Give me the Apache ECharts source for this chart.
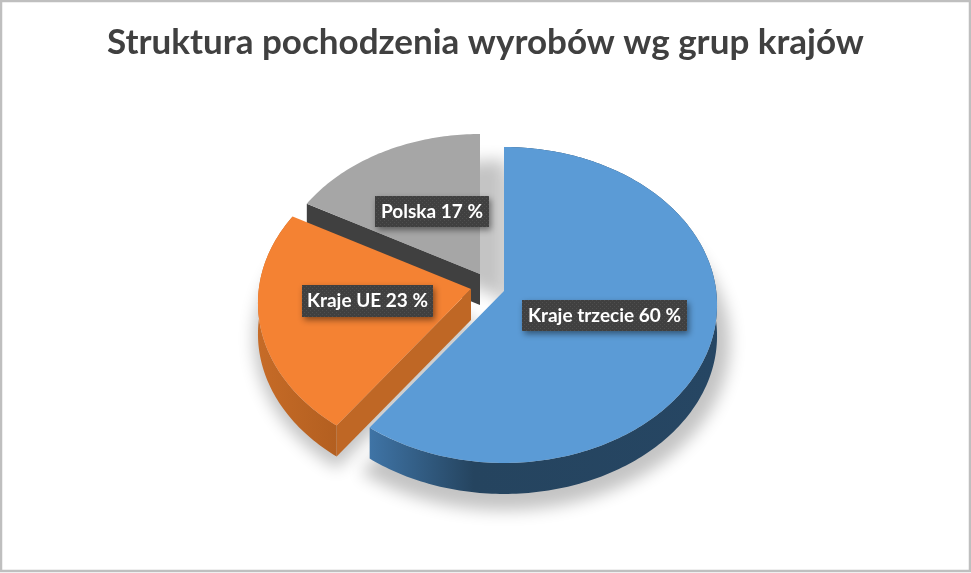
<!DOCTYPE html>
<html><head><meta charset="utf-8">
<style>html,body{margin:0;padding:0;background:#fff}#c{width:971px;height:573px}</style>
<script src="https://cdn.jsdelivr.net/npm/echarts@6/dist/echarts.min.js"></script>
</head><body><div id="c"></div>
<script>
const categories = ['Kraje trzecie', 'Kraje UE', 'Polska'];
const shares = [60, 23, 17];
const titleText = 'Struktura pochodzenia wyrobów wg grup krajów';

// drawing layout of the tilted pie
const centre = {x: 504, y: 291}, radiusX = 212.2, radiusY = 156.7, persp = 0.0885, depth = 31;
const explode = [[0, 0], [-33, -2], [-24, -17]];
const sliceScale = [1, 1, 0.97];
const shadowShift = [[0, 36], [9, 34], [26, 26]];
const shadowScale = [1.06, 1.06, 1];
const offCanvas = 3000;
const faceColors = ['#5b9bd6', '#f48233', '#a6a6a6'];
const rimColors = [
  {type:'linear',x:0,y:0,x2:1,y2:0,colorStops:[{offset:0,color:'#3f74a6'},{offset:.3,color:'#25445f'},{offset:1,color:'#264663'}]},
  {type:'linear',x:0,y:0,x2:1,y2:0,colorStops:[{offset:0,color:'#c66b27'},{offset:1,color:'#b35f20'}]},
  '#404040'];
const wallColors = ['#264663', '#bf6725', '#404040'];
const labelBoxes = [[522, 300, 165, 31], [302, 285, 131, 32], [375, 196, 114, 31]];

const dot = document.createElement('canvas');
dot.width = dot.height = 4;
const g = dot.getContext('2d');
g.fillStyle = '#404040'; g.fillRect(0, 0, 4, 4);
g.fillStyle = '#4f4f4f'; g.fillRect(0, 0, 1, 1); g.fillRect(2, 2, 1, 1);

function project(a, r) {
  const rad = a * Math.PI / 180, ux = Math.sin(rad) * r, uy = -Math.cos(rad) * r, w = 1 - persp * uy;
  return [radiusX * ux / w, radiusY * uy / w];
}
function angles(i) {
  const total = shares.reduce((s, v) => s + v, 0);
  const before = shares.slice(0, i).reduce((s, v) => s + v, 0);
  return [before / total * 360, (before + shares[i]) / total * 360];
}
function arc(i, scale) {
  const [a0, a1] = angles(i), pts = [];
  const n = Math.ceil(a1 - a0);
  for (let k = 0; k <= n; k++) pts.push(project(a0 + (a1 - a0) * k / n, scale));
  return pts;
}
const place = (i, pts, dy) => pts.map(p => [centre.x + explode[i][0] + p[0], centre.y + explode[i][1] + p[1] + (dy || 0)]);

// only the blurred shadow shows: the casting polygon itself lies off the canvas
function renderShadow(params, api) {
  const i = api.value(1);
  const pts = place(i, [[0, 0]].concat(arc(i, shadowScale[i] * sliceScale[i])))
    .map(p => [p[0] + shadowShift[i][0] - offCanvas, p[1] + shadowShift[i][1]]);
  return {type: 'polygon', shape: {points: pts}, z2: 1,
    style: {fill: '#000', shadowBlur: 16, shadowOffsetX: offCanvas, shadowColor: 'rgba(196,196,196,1)'}};
}
function renderSlice(params, api) {
  const i = api.value(1), base = (3 - i) * 10;
  const a = arc(i, sliceScale[i]), top = place(i, a), bottom = place(i, a, depth);
  const apex = place(i, [[0, 0]]), apexLow = place(i, [[0, 0]], depth);
  const children = [];
  if (i !== 2) {
    children.push({type: 'polygon', z2: base, shape: {points: top.concat(bottom.slice().reverse())},
      style: {fill: rimColors[i]}});
  }
  if (i !== 0) { // visible cut wall
    children.push({type: 'polygon', z2: base + 1,
      shape: {points: [top[0], apex[0], apexLow[0], bottom[0]]}, style: {fill: wallColors[i]}});
  }
  children.push({type: 'polygon', z2: base + 2, shape: {points: apex.concat(top)},
    style: {fill: faceColors[i]}});
  const b = labelBoxes[i];
  children.push({type: 'rect', z2: 100, shape: {x: b[0], y: b[1], width: b[2], height: b[3]},
    style: {fill: {image: dot, repeat: 'repeat'}, shadowBlur: 6, shadowOffsetX: 2, shadowOffsetY: 3, shadowColor: 'rgba(0,0,0,0.45)'}});
  children.push({type: 'text', z2: 101, x: b[0] + b[2] / 2, y: b[1] + b[3] / 2,
    style: {text: api.value(2) + ' ' + api.value(0) + ' %', fill: '#fff', align: 'center', verticalAlign: 'middle',
      font: 'bold 19px Lato'}});
  return {type: 'group', children};
}
const rows = shares.map((v, i) => [v, i, categories[i]]);
const chart = echarts.init(document.getElementById('c'), null, {renderer: 'canvas'});
chart.setOption({
  animation: false,
  backgroundColor: '#fff',
  title: {text: titleText, left: 'center', top: 20,
    textStyle: {fontFamily: 'Lato', fontWeight: 'bold', fontSize: 35, color: '#404040'}},
  graphic: [{type: 'rect', z: -1, shape: {x: 1, y: 1, width: 969, height: 570}, style: {fill: 'none', stroke: '#bfbfbf', lineWidth: 2.5}}],
  series: [
    {type: 'custom', coordinateSystem: 'none', z: 1, silent: true, renderItem: renderShadow, data: rows},
    {type: 'custom', coordinateSystem: 'none', z: 2, renderItem: renderSlice, data: rows}
  ]
});
</script></body></html>
